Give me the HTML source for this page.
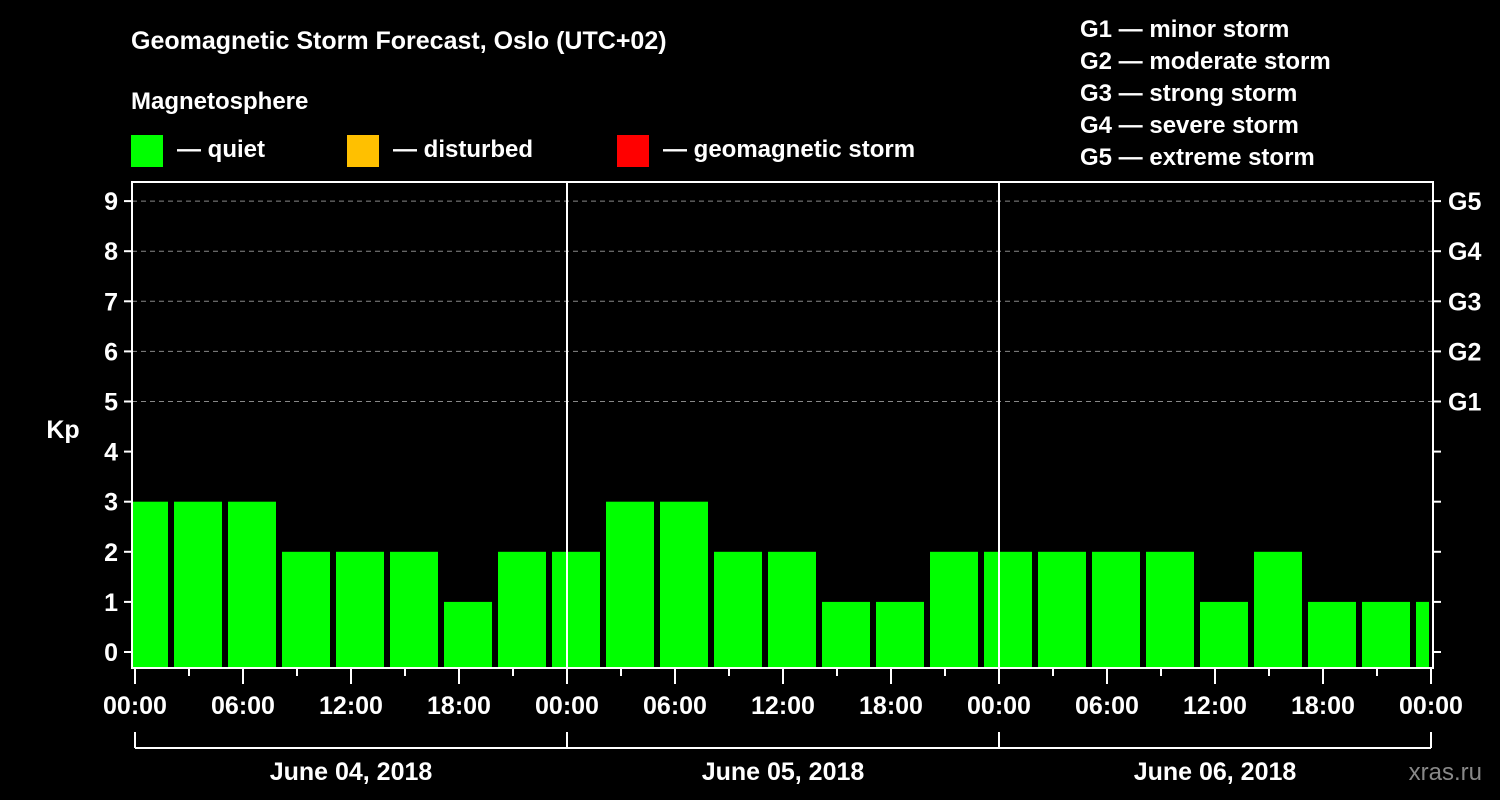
<!DOCTYPE html>
<html><head><meta charset="utf-8"><style>
html,body{margin:0;padding:0;background:#000;}
svg{display:block;font-family:"Liberation Sans",Arial,sans-serif;font-weight:bold;}
</style></head><body>
<svg id="chart" width="1500" height="800" viewBox="0 0 1500 800">
<rect x="0" y="0" width="1500" height="800" fill="#000"/>
<text x="131" y="49" fill="#fff" font-size="25">Geomagnetic Storm Forecast, Oslo (UTC+02)</text>
<text x="131" y="109" fill="#fff" font-size="24">Magnetosphere</text>
<g>
<rect x="131" y="135" width="32" height="32" fill="#00ff00"/><text x="177" y="157" fill="#fff" font-size="24">— quiet</text></g>
<g>
<rect x="347" y="135" width="32" height="32" fill="#ffc000"/><text x="393" y="157" fill="#fff" font-size="24">— disturbed</text></g>
<g>
<rect x="617" y="135" width="32" height="32" fill="#ff0000"/><text x="663" y="157" fill="#fff" font-size="24">— geomagnetic storm</text></g>
<g fill="#fff" font-size="24">
<text x="1080" y="37">G1 — minor storm</text>
<text x="1080" y="69">G2 — moderate storm</text>
<text x="1080" y="101">G3 — strong storm</text>
<text x="1080" y="133">G4 — severe storm</text>
<text x="1080" y="165">G5 — extreme storm</text>
</g>
<text x="63" y="438" fill="#fff" font-size="25" text-anchor="middle">Kp</text>
<text x="1482" y="780" fill="#888" font-size="24" font-weight="normal" text-anchor="end">xras.ru</text>
<g id="grid"></g><g id="bars"></g><g id="axes"></g>
</svg>
<script>
const kpValues=[3,3,3,2,2,2,1,2,2,3,3,2,2,1,1,2,2,2,2,2,1,2,1,1,1];
const yTicks=[0,1,2,3,4,5,6,7,8,9];
const gLabels=["G1","G2","G3","G4","G5"];
const gLevels=[5,6,7,8,9];
const xTickLabels=["00:00","06:00","12:00","18:00","00:00","06:00","12:00","18:00","00:00","06:00","12:00","18:00","00:00"];
const dayLabels=["June 04, 2018","June 05, 2018","June 06, 2018"];
const NS="http://www.w3.org/2000/svg";
const L=132,R=1433,T=182,B=668,X0=135,XH=18;
const y=v=>652-v*50.1;
const x=h=>X0+h*XH;
function mk(tag,attrs,parent,txt){const e=document.createElementNS(NS,tag);for(const k in attrs)e.setAttribute(k,attrs[k]);if(txt!==undefined)e.textContent=txt;parent.appendChild(e);return e;}
const grid=document.getElementById('grid'),bars=document.getElementById('bars'),axes=document.getElementById('axes');
mk('clipPath',{id:'pc'},bars);
mk('rect',{x:L+1,y:T,width:R-L-5,height:B-T},bars.firstChild);
const bg=mk('g',{'clip-path':'url(#pc)'},bars);
gLevels.forEach(v=>{const l=mk('line',{x1:L,x2:R,y1:y(v),y2:y(v),stroke:'#888','stroke-dasharray':'5,4','stroke-width':1},grid);

});
kpValues.forEach((v,i)=>{const c=x(0.5+3*i);const col=v>=5?'#ff0000':(v>=4?'#ffc000':'#00ff00');
const r=mk('rect',{x:c-24,y:y(v),width:48,height:B-y(v),fill:col},bg);

});
for(let d=1;d<3;d++){const l=mk('line',{x1:x(24*d),x2:x(24*d),y1:T,y2:B,stroke:'#fff','stroke-width':2},axes);

}
const frame=mk('rect',{x:L,y:T,width:R-L,height:B-T,fill:'none',stroke:'#fff','stroke-width':2},axes);


yTicks.forEach(v=>{mk('line',{x1:L-8,x2:L,y1:y(v),y2:y(v),stroke:'#fff','stroke-width':2},axes);
mk('line',{x1:R,x2:R+8,y1:y(v),y2:y(v),stroke:'#fff','stroke-width':2},axes);
const t=mk('text',{x:L-14,y:y(v)+9,fill:'#fff','font-size':25,'text-anchor':'end'},axes,String(v));

});
gLabels.forEach((g,i)=>{const t=mk('text',{x:R+15,y:y(gLevels[i])+9,fill:'#fff','font-size':25},axes,g);

});
for(let h=0;h<=72;h+=3){const major=h%6===0;mk('line',{x1:x(h),x2:x(h),y1:B,y2:B+(major?16:8),stroke:'#fff','stroke-width':2},axes);}
xTickLabels.forEach((s,i)=>{const t=mk('text',{x:x(6*i),y:714,fill:'#fff','font-size':25,'text-anchor':'middle'},axes,s);

});
mk('line',{x1:x(0),x2:x(72),y1:748,y2:748,stroke:'#fff','stroke-width':2},axes);
for(let d=0;d<=3;d++)mk('line',{x1:x(24*d),x2:x(24*d),y1:732,y2:748,stroke:'#fff','stroke-width':2},axes);
dayLabels.forEach((s,i)=>{const t=mk('text',{x:x(24*i+12),y:780,fill:'#fff','font-size':25,'text-anchor':'middle'},axes,s);

});
</script>
</body></html>
